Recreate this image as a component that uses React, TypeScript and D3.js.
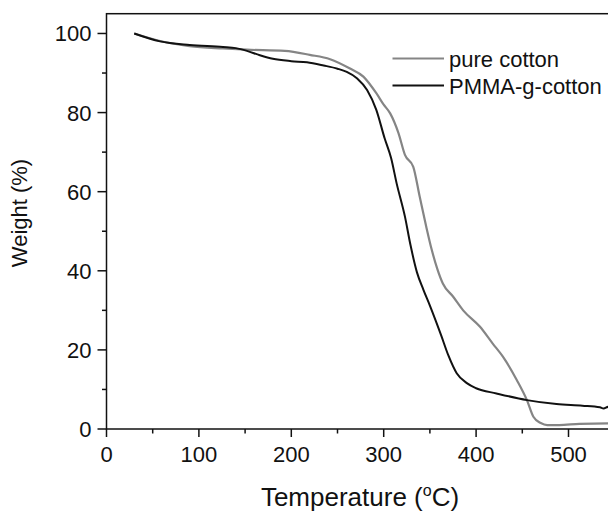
import React from "react";
import * as d3 from "d3";

const pureT = [30, 58, 90, 126, 152, 193, 220, 242, 263, 278, 292, 300, 307, 316, 323, 332, 339, 346, 352, 358, 364, 375, 386, 404, 418, 429, 444, 455, 462, 470, 477, 490, 512, 543, 570];
const pureW = [100, 98.1, 96.8, 96.2, 95.9, 95.6, 94.6, 93.5, 91.2, 89.1, 84.9, 82.0, 79.8, 74.8, 69.3, 66.3, 58.7, 51.2, 45.3, 40.5, 36.8, 33.5, 30.0, 25.9, 21.6, 18.3, 12.4, 7.3, 3.1, 1.5, 1.0, 1.0, 1.3, 1.4, 1.4];

const pmmaT = [30, 58, 90, 126, 140, 152, 166, 180, 200, 217, 235, 250, 260, 271, 282, 292, 301, 308, 314, 323, 329, 336, 343, 350, 362, 370, 379, 390, 400, 422, 455, 487, 515, 534, 538, 543, 570];
const pmmaW = [100, 98.0, 97.1, 96.6, 96.3, 95.6, 94.5, 93.6, 93.0, 92.7, 91.9, 91.1, 90.3, 88.7, 85.7, 80.7, 73.5, 68.5, 62.1, 53.7, 46.5, 39.6, 35.2, 31.2, 23.8, 18.6, 14.1, 11.6, 10.3, 9.0, 7.3, 6.3, 5.9, 5.5, 5.2, 5.6, 5.6];

const xMajor = [0, 100, 200, 300, 400, 500];
const xMinor = [50, 150, 250, 350, 450, 550];
const yMajor = [0, 20, 40, 60, 80, 100];
const yMinor = [10, 30, 50, 70, 90];

const seriesNames = ["pure cotton", "PMMA-g-cotton"];
const seriesColors = ["#858585", "#111111"];

export default function App() {
  const W = 608, H = 511;
  const x = d3.scaleLinear().domain([0, 600]).range([106.5, 106.5 + 554.4]);
  const y = d3.scaleLinear().domain([0, 105]).range([429, 13.7]);
  const line = d3.line<[number, number]>().x(d => x(d[0])).y(d => y(d[1])).curve(d3.curveMonotoneX);
  const pure = pureT.map((t, i) => [t, pureW[i]] as [number, number]);
  const pmma = pmmaT.map((t, i) => [t, pmmaW[i]] as [number, number]);
  const font = "'Liberation Sans', Arial, sans-serif";
  const x0 = x(0), y0 = y(0), yTop = y(105), xR = x(600);
  return (
    <svg width={W} height={H} style={{ position: "absolute", left: 0, top: 0, background: "#fff" }} fontFamily={font}>
      <rect x={0} y={0} width={W} height={H} fill="#fff" />
      <path d={line(pure) || ""} fill="none" stroke={seriesColors[0]} strokeWidth={2.2} />
      <path d={line(pmma) || ""} fill="none" stroke={seriesColors[1]} strokeWidth={2} />
      <rect x={x0} y={yTop} width={xR - x0} height={y0 - yTop} fill="none" stroke="#111" strokeWidth={1.5} />
      {xMajor.map(v => (
        <g key={"xm" + v}>
          <line x1={x(v)} x2={x(v)} y1={y0} y2={y0 + 8} stroke="#111" strokeWidth={1.5} />
          <text x={x(v)} y={461.5} textAnchor="middle" fontSize={22} fill="#111">{v}</text>
        </g>
      ))}
      {xMinor.map(v => (
        <line key={"xn" + v} x1={x(v)} x2={x(v)} y1={y0} y2={y0 + 4.5} stroke="#111" strokeWidth={1.5} />
      ))}
      {yMajor.map(v => (
        <g key={"ym" + v}>
          <line x1={x0 - 9} x2={x0} y1={y(v)} y2={y(v)} stroke="#111" strokeWidth={1.5} />
          <text x={x0 - 15} y={y(v) + 8} textAnchor="end" fontSize={22} fill="#111">{v}</text>
        </g>
      ))}
      {yMinor.map(v => (
        <line key={"yn" + v} x1={x0 - 4.5} x2={x0} y1={y(v)} y2={y(v)} stroke="#111" strokeWidth={1.5} />
      ))}
      <text transform={`translate(27,213) rotate(-90)`} textAnchor="middle" fontSize={22} fill="#111">Weight (%)</text>
      <text x={360} y={506} textAnchor="middle" fontSize={26} fill="#111">
        Temperature (<tspan fontSize={16} dy={-10}>o</tspan><tspan dy={10}>C)</tspan>
      </text>
      {seriesNames.map((n, i) => (
        <g key={n}>
          <line x1={392.5} x2={444} y1={58.5 + i * 27} y2={58.5 + i * 27} stroke={seriesColors[i]} strokeWidth={2.2} />
          <text x={449} y={58.5 + i * 27 + 8} fontSize={22} fill="#111">{n}</text>
        </g>
      ))}
    </svg>
  );
}
